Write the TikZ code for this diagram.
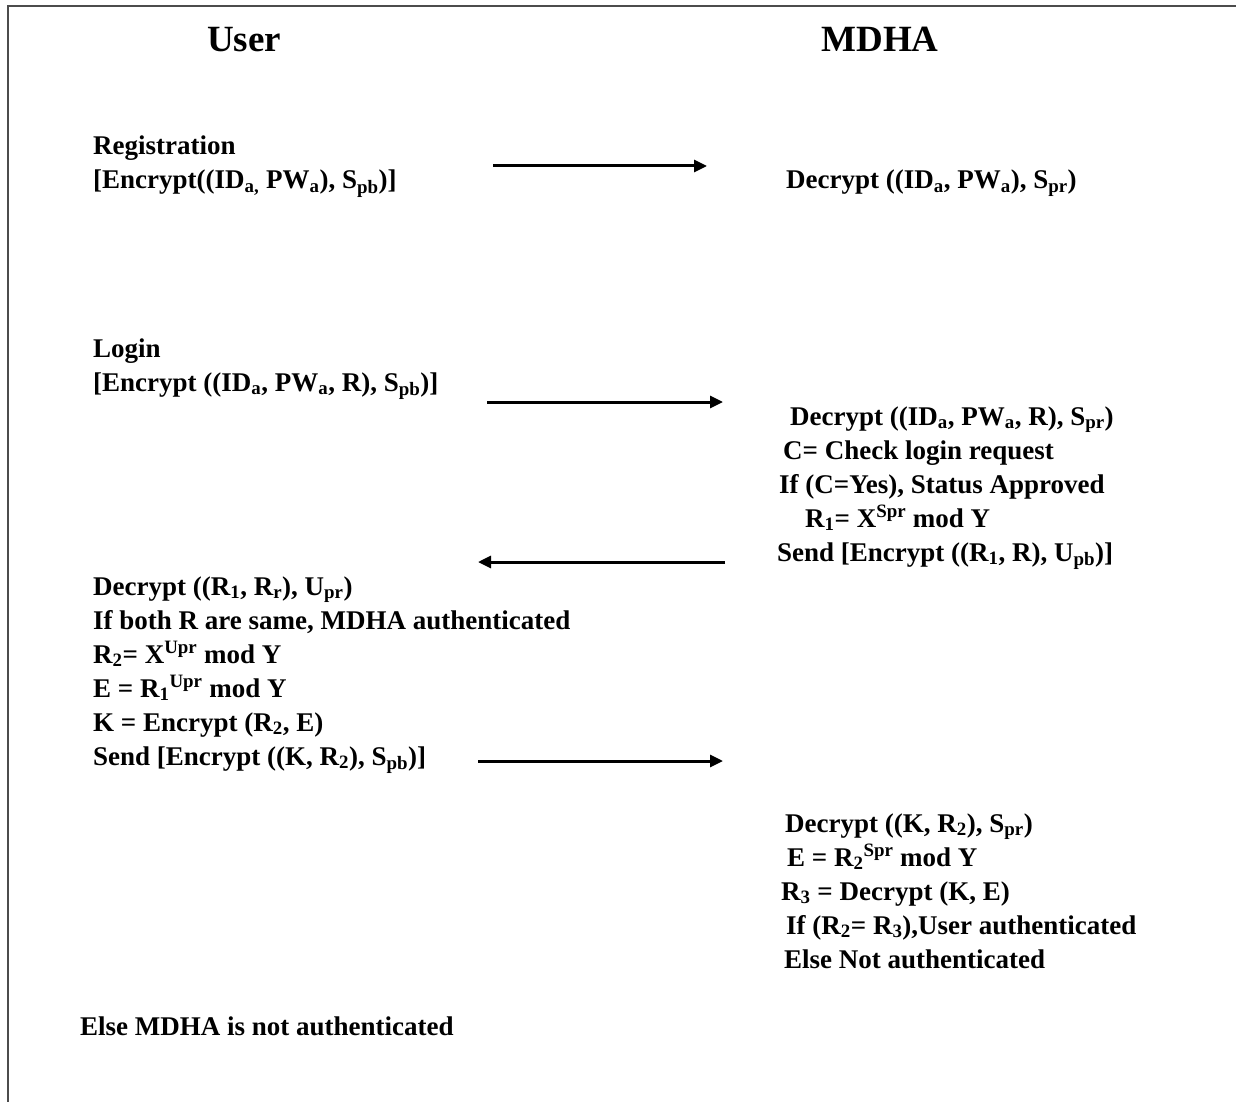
\documentclass[tikz,border=0pt]{standalone}
\usepackage{fontspec}
\setmainfont{Liberation Serif}
\usetikzlibrary{arrows.meta,positioning}
\newcommand{\ssub}[1]{\textsubscript{#1}}
\newcommand{\ssup}[1]{\textsuperscript{#1}}
\tikzset{
 ln/.style={anchor=base west, inner sep=0pt, font=\fontsize{27}{34}\selectfont\bfseries},
 head/.style={anchor=base, inner sep=0pt, font=\fontsize{37}{44}\selectfont\bfseries},
 msg/.style={line width=3pt, -{Triangle[length=13pt,width=12pt]}},
 frame/.style={line width=1.6pt, black!70}
}
\begin{document}
\begin{tikzpicture}[x=1pt,y=-1pt]
 \useasboundingbox (0,0) rectangle (1236,1102);
 \draw[frame] (8,1102) -- (8,6) -- (1236,6);
 \node[head] (user) at (244,52) {User};
 \node[head] (mdha) at (880,52) {MDHA};
 \node[ln] (reg) at (93,155) {Registration};
 \node[below=34pt of reg.base west, ln] (regmsg) {[Encrypt((ID\ssub{a,} PW\ssub{a}), S\ssub{pb})]};
 \node[ln] (regdec) at (786,189) {Decrypt ((ID\ssub{a}, PW\ssub{a}), S\ssub{pr})};
 \node[ln] (login) at (93,357) {Login};
 \node[below=34pt of login.base west, ln] (loginmsg) {[Encrypt ((ID\ssub{a}, PW\ssub{a}, R), S\ssub{pb})]};
 \node[ln] (logindec) at (790,425) {Decrypt ((ID\ssub{a}, PW\ssub{a}, R), S\ssub{pr})};
 \node[below right=34pt and -7pt of logindec.base west, ln] (check) {C= Check login request};
 \node[below right=34pt and -4pt of check.base west, ln] (approve) {If (C=Yes), Status Approved};
 \node[below right=34pt and 26pt of approve.base west, ln] (rone) {R\ssub{1}= X\ssup{Spr} mod Y};
 \node[below right=34pt and -28pt of rone.base west, ln] (sendone) {Send [Encrypt ((R\ssub{1}, R), U\ssub{pb})]};
 \node[ln] (userdec) at (93,595) {Decrypt ((R\ssub{1}, R\ssub{r}), U\ssub{pr})};
 \node[below=34pt of userdec.base west, ln] (same) {If both R are same, MDHA authenticated};
 \node[below=34pt of same.base west, ln] (rtwo) {R\ssub{2}= X\ssup{Upr} mod Y};
 \node[below=34pt of rtwo.base west, ln] (ekey) {E = R\ssub{1}\ssup{Upr} mod Y};
 \node[below=34pt of ekey.base west, ln] (kkey) {K = Encrypt (R\ssub{2}, E)};
 \node[below=34pt of kkey.base west, ln] (sendtwo) {Send [Encrypt ((K, R\ssub{2}), S\ssub{pb})]};
 \node[ln] (mdhadec) at (785,832) {Decrypt ((K, R\ssub{2}), S\ssub{pr})};
 \node[below right=34pt and 2pt of mdhadec.base west, ln] (etwo) {E = R\ssub{2}\ssup{Spr} mod Y};
 \node[below right=34pt and -6pt of etwo.base west, ln] (rthree) {R\ssub{3} = Decrypt (K, E)};
 \node[below right=34pt and 5pt of rthree.base west, ln] (userok) {If (R\ssub{2}= R\ssub{3}),User authenticated};
 \node[below right=34pt and -2pt of userok.base west, ln] (userno) {Else Not authenticated};
 \node[ln] (mdhano) at (80,1035) {Else MDHA is not authenticated};
 \coordinate (regfrom) at (493,166);
 \coordinate (regto) at (707,166);
 \coordinate (loginfrom) at (487,402);
 \coordinate (loginto) at (723,402);
 \coordinate (replyfrom) at (725,562);
 \coordinate (replyto) at (478,562);
 \coordinate (keyfrom) at (478,761);
 \coordinate (keyto) at (723,761);
 \draw[msg] (regfrom) -- (regto);
 \draw[msg] (loginfrom) -- (loginto);
 \draw[msg] (replyfrom) -- (replyto);
 \draw[msg] (keyfrom) -- (keyto);
\end{tikzpicture}
\end{document}
